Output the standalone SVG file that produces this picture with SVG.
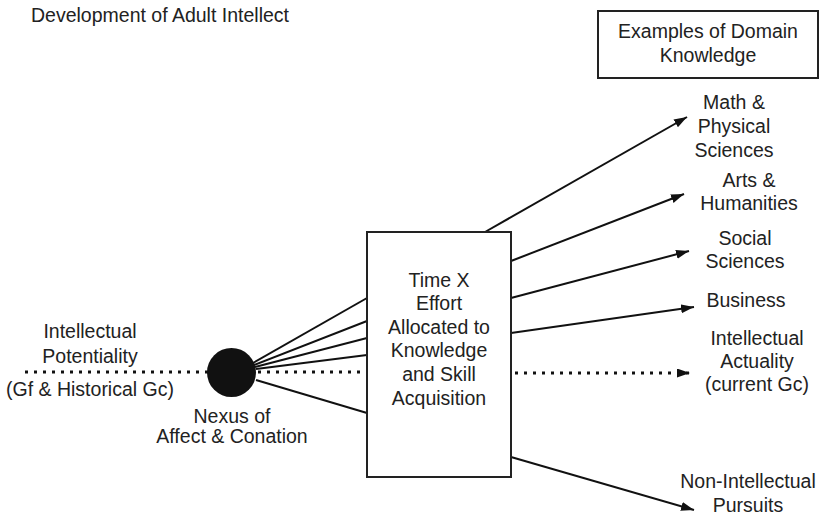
<svg xmlns="http://www.w3.org/2000/svg" width="821" height="519" viewBox="0 0 821 519">
  <style>
    text { font-family: "Liberation Sans", Arial, sans-serif; font-size: 19.5px; fill: #222; text-anchor: middle; }
    .title { text-anchor: start; }
    .ln { stroke: #111; stroke-width: 2; fill: none; }
    .dot { stroke: #111; stroke-width: 3; stroke-dasharray: 3 6; fill: none; }
    .box { fill: #fff; stroke: #222; stroke-width: 2; }
  </style>
  <defs>
    <marker id="arr" markerUnits="userSpaceOnUse" markerWidth="14" markerHeight="10" refX="13" refY="4.5" orient="auto">
      <path d="M0,0 L13,4.5 L0,9 z" fill="#111"/>
    </marker>
  </defs>
  <rect width="821" height="519" fill="#fff"/>

  <text class="title" x="31" y="22">Development of Adult Intellect</text>

  <g id="connectors">
    <line class="dot" x1="25" y1="372" x2="208" y2="372"/>
    <line class="dot" x1="258" y1="372" x2="366" y2="372"/>
    <line class="dot" x1="515" y1="373" x2="690" y2="373" marker-end="url(#arr)"/>
    <line class="ln" x1="253" y1="363" x2="367" y2="298"/>
    <line class="ln" x1="254" y1="365" x2="367" y2="321"/>
    <line class="ln" x1="255" y1="367" x2="367" y2="338"/>
    <line class="ln" x1="256" y1="369" x2="367" y2="355"/>
    <line class="ln" x1="256" y1="380" x2="367" y2="413"/>
    <line class="ln" x1="485" y1="232" x2="687" y2="117" marker-end="url(#arr)"/>
    <line class="ln" x1="511" y1="261" x2="684" y2="194" marker-end="url(#arr)"/>
    <line class="ln" x1="511" y1="298" x2="689" y2="251" marker-end="url(#arr)"/>
    <line class="ln" x1="511" y1="333" x2="694" y2="307" marker-end="url(#arr)"/>
    <line class="ln" x1="511" y1="457" x2="694" y2="510" marker-end="url(#arr)"/>
  </g>

  <g id="potentiality">
    <text x="90" y="338">Intellectual</text>
    <text x="90" y="363">Potentiality</text>
    <text x="90" y="396">(Gf &amp; Historical Gc)</text>
  </g>

  <g id="nexus">
    <circle cx="231.5" cy="372.5" r="24.5" fill="#111"/>
    <text x="232" y="423">Nexus of</text>
    <text x="232" y="443">Affect &amp; Conation</text>
  </g>

  <g id="effort">
    <rect class="box" x="367" y="232" width="144" height="245"/>
    <text x="439" y="287">Time X</text>
    <text x="439" y="310">Effort</text>
    <text x="439" y="334">Allocated to</text>
    <text x="439" y="357">Knowledge</text>
    <text x="439" y="381">and Skill</text>
    <text x="439" y="405">Acquisition</text>
  </g>

  <g id="examples">
    <rect class="box" x="598" y="11" width="220" height="67"/>
    <text x="708" y="38">Examples of Domain</text>
    <text x="708" y="62">Knowledge</text>
  </g>

  <g id="math">
    <text x="734" y="109">Math &amp;</text>
    <text x="734" y="133">Physical</text>
    <text x="734" y="157">Sciences</text>
  </g>

  <g id="arts">
    <text x="749" y="187">Arts &amp;</text>
    <text x="749" y="210">Humanities</text>
  </g>

  <g id="social">
    <text x="745" y="245">Social</text>
    <text x="745" y="268">Sciences</text>
  </g>

  <g id="business">
    <text x="746" y="307">Business</text>
  </g>

  <g id="actuality">
    <text x="757" y="345">Intellectual</text>
    <text x="757" y="368">Actuality</text>
    <text x="757" y="391">(current Gc)</text>
  </g>

  <g id="nonintellectual">
    <text x="748" y="488">Non-Intellectual</text>
    <text x="748" y="512">Pursuits</text>
  </g>
</svg>
